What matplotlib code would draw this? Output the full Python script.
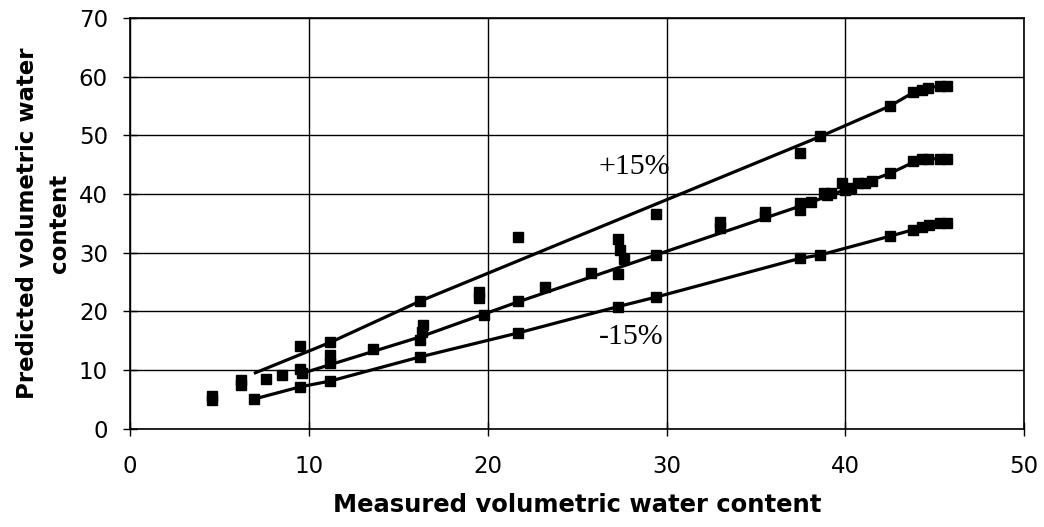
import matplotlib.pyplot as plt

# measured vs predicted volumetric water content (square markers)
measured = [4.6, 4.6, 6.2, 6.2, 6.9, 7.6, 8.5, 9.5, 9.5, 9.6, 9.5,
            11.2, 11.2, 11.2, 11.2, 13.6, 16.2, 16.4, 16.3, 16.2, 16.2,
            19.5, 19.5, 19.8, 21.7, 21.7, 21.7, 23.2, 25.8,
            27.3, 27.4, 27.6, 27.3, 27.3, 29.4, 29.4, 29.4,
            33.0, 33.0, 35.5, 35.5, 37.45, 37.45, 37.45, 37.45, 38.1,
            38.6, 38.6, 38.8, 39.0, 39.2, 39.8, 40.0, 40.3, 40.7, 41.1, 41.5,
            42.5, 42.5, 42.5, 43.8, 43.8, 43.8, 44.3, 44.3, 44.3,
            44.6, 44.6, 44.7, 45.3, 45.3, 45.3, 45.7, 45.7, 45.7]
predicted = [5.5, 4.8, 8.2, 7.5, 5.0, 8.4, 9.1, 14.0, 10.2, 9.4, 7.1,
             14.7, 12.5, 11.2, 8.1, 13.5, 21.7, 17.7, 16.4, 15.1, 12.2,
             23.3, 22.2, 19.4, 32.6, 21.7, 16.3, 24.1, 26.5,
             32.3, 30.5, 28.9, 26.4, 20.8, 36.5, 29.6, 22.4,
             35.3, 34.2, 37.0, 36.2, 47.0, 38.5, 37.3, 29.1, 38.7,
             49.8, 29.6, 40.2, 39.9, 40.2, 41.9, 40.7, 41.0, 41.9, 41.9, 42.2,
             55.0, 43.6, 32.8, 57.3, 45.6, 33.9, 57.8, 46.0, 34.4,
             58.1, 46.0, 34.7, 58.4, 46.0, 35.0, 58.4, 46.0, 35.1]

# the three reference lines
upper_x = [7.0, 11.2, 16.2, 38.6, 42.5, 43.8, 44.3, 44.6, 45.3, 45.7]
upper_y = [9.5, 14.7, 21.7, 49.8, 55.0, 57.3, 57.8, 58.1, 58.4, 58.4]
mid_x = [9.5, 16.2, 21.7, 29.4, 37.45, 42.5, 43.8, 44.3, 45.7]
mid_y = [9.3, 15.6, 21.6, 29.6, 37.9, 43.5, 45.4, 46.0, 46.0]
lower_x = [6.9, 9.5, 11.2, 16.2, 21.7, 27.3, 29.4, 37.45, 38.6, 42.5, 43.8, 44.3, 44.7, 45.7]
lower_y = [5.0, 7.1, 8.1, 12.2, 16.3, 20.8, 22.4, 29.0, 29.6, 32.8, 33.9, 34.4, 34.7, 35.1]

fig = plt.figure(figsize=(10.44, 5.27), dpi=100)
ax = fig.add_axes([0.1247, 0.1869, 0.8563, 0.7789])

ax.plot(upper_x, upper_y, color="black", lw=2.3, zorder=3)
ax.plot(mid_x, mid_y, color="black", lw=2.3, zorder=3)
ax.plot(lower_x, lower_y, color="black", lw=2.3, zorder=3)
ax.plot(measured, predicted, "s", color="black", ms=7.5, zorder=4)

ax.text(28.2, 44.6, "+15%", family="Liberation Serif", fontsize=21.5,
        ha="center", va="center")
ax.text(28.0, 15.6, "-15%", family="Liberation Serif", fontsize=21.5,
        ha="center", va="center")

ax.set_xlim(0, 50)
ax.set_ylim(0, 70)
ax.set_xticks(range(0, 51, 10))
ax.set_yticks(range(0, 71, 10))
ax.grid(True, color="black", lw=1.0)
ax.set_axisbelow(True)
for s in ax.spines.values():
    s.set_color("black")
    s.set_linewidth(1.2)
ax.tick_params(direction="inout", length=10, width=1.0, labelsize=16.5)
ax.tick_params(axis="x", pad=14)
ax.tick_params(axis="y", pad=11)

ax.set_xlabel("Measured volumetric water content", fontsize=17.5,
              fontweight="bold", labelpad=11)
ax.set_ylabel("Predicted volumetric water\ncontent", fontsize=16.5,
              fontweight="bold", labelpad=6, linespacing=1.45)

plt.savefig("out.png")
plt.close()
